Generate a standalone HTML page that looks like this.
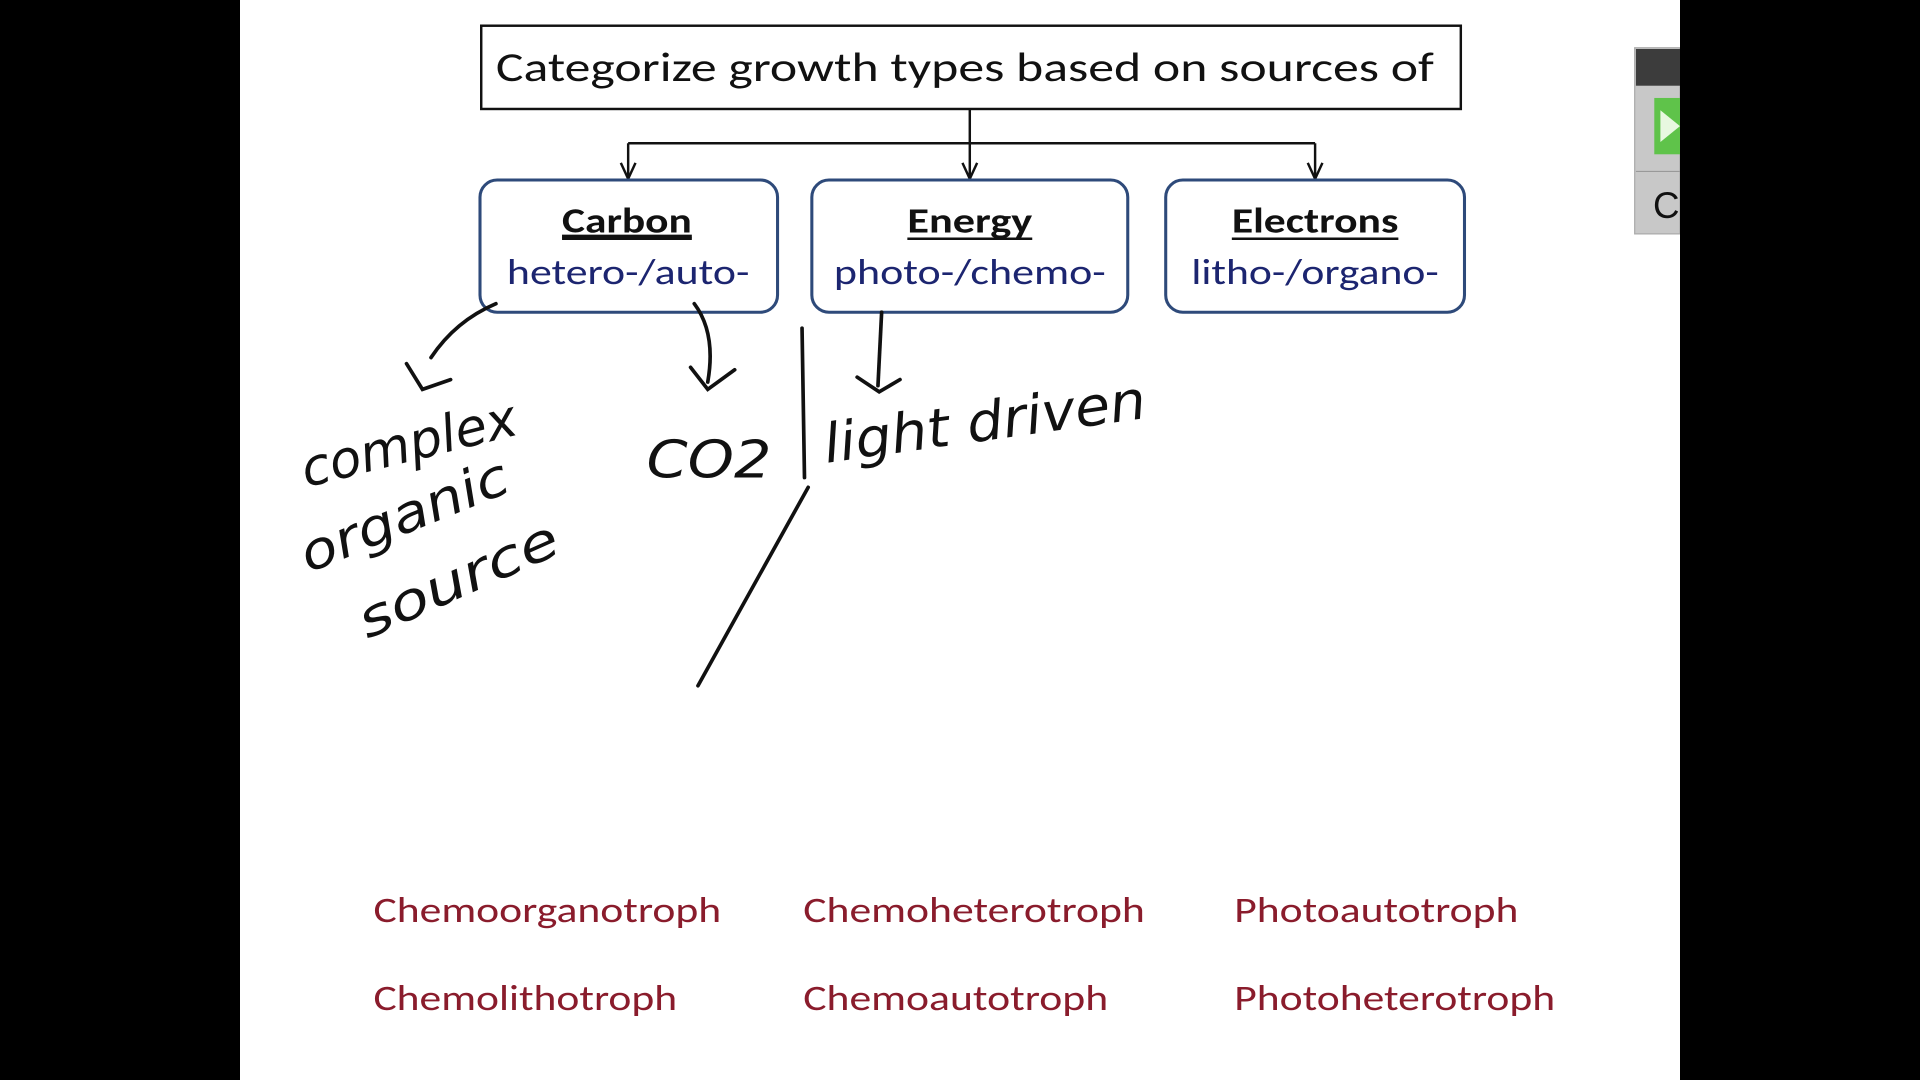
<!DOCTYPE html>
<html><head><meta charset="utf-8"><style>
html,body{margin:0;padding:0;background:#000;}
svg{display:block;}
</style></head><body>
<svg width="1920" height="1080" viewBox="0 0 1568 882" xmlns="http://www.w3.org/2000/svg">
<rect x="0" y="0" width="1568" height="882" fill="#000"/>
<rect x="196" y="0" width="1176" height="882" fill="#fff"/>

<g>
<rect x="393" y="21" width="800" height="68" fill="#fff" stroke="#111" stroke-width="2"/>
<text x="405" y="66" font-family="Calibri, 'Liberation Sans', sans-serif" font-size="34" fill="#111" textLength="766" lengthAdjust="spacingAndGlyphs">Categorize growth types based on sources of</text>
</g>

<g stroke="#111" stroke-width="2" fill="none">
<line x1="792" y1="89" x2="792" y2="145"/>
<line x1="513" y1="117" x2="1074" y2="117"/>
<line x1="513" y1="117" x2="513" y2="145"/>
<line x1="1074" y1="117" x2="1074" y2="145"/>
<polyline points="507,133 513,146 519,133"/>
<polyline points="786,133 792,146 798,133"/>
<polyline points="1068,133 1074,146 1080,133"/>
</g>

<g>
<rect x="392" y="147" width="243" height="108" rx="14" fill="#fff" stroke="#2e4a7a" stroke-width="2.5"/>
<text x="512" y="190" text-anchor="middle" font-family="Calibri, 'Liberation Sans', sans-serif" font-weight="bold" font-size="29" fill="#111" text-decoration="underline" textLength="106" lengthAdjust="spacingAndGlyphs">Carbon</text>
<line x1="459" y1="195" x2="565" y2="195" stroke="#111" stroke-width="2"/>
<text x="513" y="232" text-anchor="middle" font-family="Calibri, 'Liberation Sans', sans-serif" font-size="29" fill="#1c2570" textLength="198" lengthAdjust="spacingAndGlyphs">hetero-/auto-</text>
</g>
<g>
<rect x="663" y="147" width="258" height="108" rx="14" fill="#fff" stroke="#2e4a7a" stroke-width="2.5"/>
<text x="792" y="190" text-anchor="middle" font-family="Calibri, 'Liberation Sans', sans-serif" font-weight="bold" font-size="29" fill="#111" textLength="102" lengthAdjust="spacingAndGlyphs">Energy</text>
<line x1="741" y1="195" x2="843" y2="195" stroke="#111" stroke-width="2"/>
<text x="792" y="232" text-anchor="middle" font-family="Calibri, 'Liberation Sans', sans-serif" font-size="29" fill="#1c2570" textLength="222" lengthAdjust="spacingAndGlyphs">photo-/chemo-</text>
</g>
<g>
<rect x="952" y="147" width="244" height="108" rx="14" fill="#fff" stroke="#2e4a7a" stroke-width="2.5"/>
<text x="1074" y="190" text-anchor="middle" font-family="Calibri, 'Liberation Sans', sans-serif" font-weight="bold" font-size="29" fill="#111" textLength="136" lengthAdjust="spacingAndGlyphs">Electrons</text>
<line x1="1006" y1="195" x2="1142" y2="195" stroke="#111" stroke-width="2"/>
<text x="1074" y="232" text-anchor="middle" font-family="Calibri, 'Liberation Sans', sans-serif" font-size="29" fill="#1c2570" textLength="202" lengthAdjust="spacingAndGlyphs">litho-/organo-</text>
</g>

<g stroke="#111" stroke-width="3" fill="none" stroke-linecap="round">
<path d="M405,248 Q372,262 352,292"/>
<polyline points="332,297 345,318 368,310"/>
<path d="M567,248 Q585,272 578,312"/>
<polyline points="564,300 578,318 600,302"/>
<line x1="655" y1="268" x2="657" y2="390"/>
<line x1="720" y1="255" x2="717" y2="315"/>
<polyline points="700,308 718,320 735,310"/>
<line x1="660" y1="398" x2="570" y2="560"/>
</g>
<g font-family="'DejaVu Sans', sans-serif" font-style="italic" fill="#111">
<text x="250" y="398" font-size="42" transform="rotate(-14 250 398)" textLength="180" lengthAdjust="spacingAndGlyphs">complex</text>
<text x="252" y="468" font-size="42" transform="rotate(-22 252 468)" textLength="180" lengthAdjust="spacingAndGlyphs">organic</text>
<text x="300" y="522" font-size="42" transform="rotate(-24 300 522)" textLength="175" lengthAdjust="spacingAndGlyphs">source</text>
<text x="528" y="390" font-size="42" textLength="102" lengthAdjust="spacingAndGlyphs">CO2</text>
<text x="675" y="378" font-size="44" transform="rotate(-8 675 378)" textLength="265" lengthAdjust="spacingAndGlyphs">light driven</text>
</g>

<g font-family="Calibri, 'Liberation Sans', sans-serif" font-size="29" fill="#8a1c2c">
<text x="305" y="753" textLength="284" lengthAdjust="spacingAndGlyphs">Chemoorganotroph</text>
<text x="656" y="753" textLength="279" lengthAdjust="spacingAndGlyphs">Chemoheterotroph</text>
<text x="1008" y="753" textLength="232" lengthAdjust="spacingAndGlyphs">Photoautotroph</text>
<text x="305" y="825" textLength="248" lengthAdjust="spacingAndGlyphs">Chemolithotroph</text>
<text x="656" y="825" textLength="249" lengthAdjust="spacingAndGlyphs">Chemoautotroph</text>
<text x="1008" y="825" textLength="262" lengthAdjust="spacingAndGlyphs">Photoheterotroph</text>
</g>

<g>
<rect x="1335" y="39" width="37" height="152" fill="#c8c8c8" stroke="#aaa" stroke-width="1"/>
<rect x="1336" y="40" width="36" height="30" fill="#3c3c3c"/>
<rect x="1351" y="80" width="21" height="46" fill="#5fc34a"/>
<polygon points="1356,90 1372,103 1356,116" fill="#e8f8e0"/>
<line x1="1336" y1="140" x2="1372" y2="140" stroke="#999" stroke-width="1"/>
<text x="1350" y="178" font-family="'Liberation Sans', sans-serif" font-size="30" fill="#111">C</text>
</g>
<rect x="1372" y="0" width="196" height="882" fill="#000"/>
</svg>
</body></html>
